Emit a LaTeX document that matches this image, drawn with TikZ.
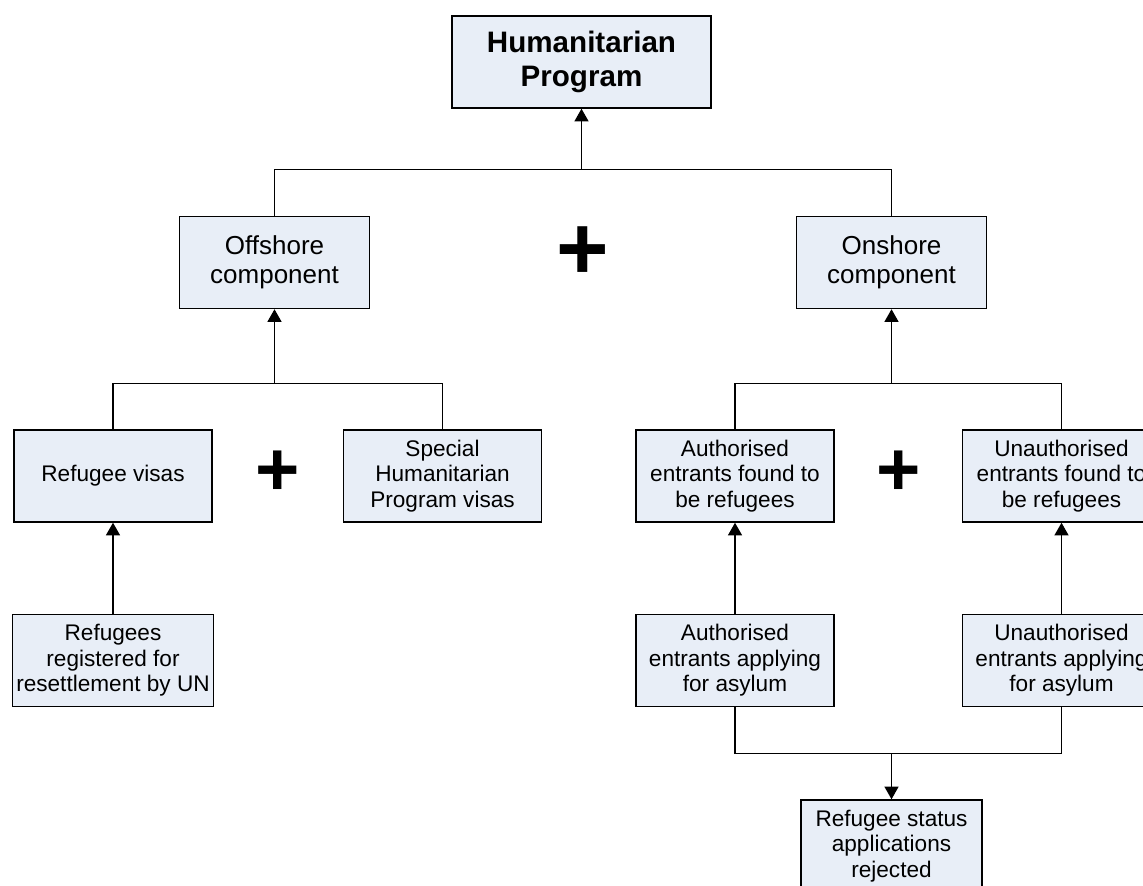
\documentclass[tikz,border=0pt]{standalone}
\usepackage{fontspec}
\setmainfont{Liberation Sans}
\usetikzlibrary{arrows.meta, positioning, calc}
\definecolor{boxfill}{RGB}{232,238,247}
\tikzset{
  titlebox/.style = {rectangle, draw=black, line width=0.75pt, fill=boxfill, minimum width=129.5pt, minimum height=46pt, align=center, inner sep=2pt, font=\fontsize{14.8pt}{17pt}\selectfont\bfseries},
  compbox/.style = {rectangle, draw=black, line width=0.75pt, fill=boxfill, minimum width=95pt, minimum height=46pt, align=center, inner sep=2pt, font=\fontsize{13pt}{14.5pt}\selectfont},
  smallbox/.style = {rectangle, draw=black, line width=0.75pt, fill=boxfill, minimum width=99pt, minimum height=46pt, align=center, inner sep=2pt, font=\fontsize{11.3pt}{12.75pt}\selectfont},
  plussign/.style = {inner sep=0pt, font=\fontsize{45pt}{45pt}\selectfont\bfseries},
  smallplus/.style = {inner sep=0pt, font=\fontsize{38pt}{38pt}\selectfont\bfseries},
  joinline/.style = {line width=0.65pt},
  connector/.style = {line width=0.65pt, -{Triangle[length=6.3pt,width=7pt]}}
}

\begin{document}
\begin{tikzpicture}
  \useasboundingbox (0,0) rectangle (571.5pt,-443pt);

  % Top node
  \node (humprog) [titlebox] at (290.75pt,-31pt) {Humanitarian\\Program};

  % Two components
  \node (offshore) [compbox, below left=53.5pt and 40.5pt of humprog] {Offshore\\component};
  \node (onshore) [compbox, below right=53.5pt and 42pt of humprog] {Onshore\\component};

  % Visa row
  \node (refvisas) [smallbox] at (56.5pt,-238pt) {Refugee visas};
  \node (special) [smallbox, right=65pt of refvisas] {Special\\Humanitarian\\Program visas};
  \node (authfound) [smallbox, right=46.5pt of special] {Authorised\\entrants found to\\be refugees};
  \node (unauthfound) [smallbox, right=63.5pt of authfound] {Unauthorised\\entrants found to\\be refugees};

  % Applicant row
  \node (registered) [smallbox, below=45.5pt of refvisas] {Refugees\\registered for\\resettlement by UN};
  \node (authapply) [smallbox, below=45.5pt of authfound] {Authorised\\entrants applying\\for asylum};
  \node (unauthapply) [smallbox, below=45.5pt of unauthfound] {Unauthorised\\entrants applying\\for asylum};

  % Rejected applications
  \coordinate (midapply) at (authapply.south -| onshore.south);
  \node (rejected) [smallbox, minimum width=90.5pt, below=46pt of midapply] {Refugee status\\applications\\rejected};

  % Plus signs
  \node (plustop) [plussign] at ($(offshore)!0.5!(onshore)+(0,4.5pt)$) {+};
  \node (plusoff) [smallplus] at ($(refvisas)!0.5!(special)+(0,1.5pt)$) {+};
  \node (pluson) [smallplus] at ($(authfound)!0.5!(unauthfound)+(0,1.5pt)$) {+};

  % Draw connections
  \draw[joinline] (offshore.north) -- ++(0,23pt) coordinate (topjoin) -| (onshore.north);
  \draw[connector] (topjoin -| humprog.south) -- (humprog.south);

  \draw[joinline] (refvisas.north) -- ++(0,23pt) coordinate (offjoin) -| (special.north);
  \draw[connector] (offjoin -| offshore.south) -- (offshore.south);

  \draw[joinline] (authfound.north) -- ++(0,23pt) coordinate (onjoin) -| (unauthfound.north);
  \draw[connector] (onjoin -| onshore.south) -- (onshore.south);

  \draw[connector] (registered) -- (refvisas);
  \draw[connector] (authapply) -- (authfound);
  \draw[connector] (unauthapply) -- (unauthfound);

  % Both applicant groups -> rejected
  \draw[joinline] (authapply.south) -- ++(0,-23pt) coordinate (rejjoin) -| (unauthapply.south);
  \draw[connector] (rejjoin -| rejected.north) -- (rejected.north);

\end{tikzpicture}
\end{document}
